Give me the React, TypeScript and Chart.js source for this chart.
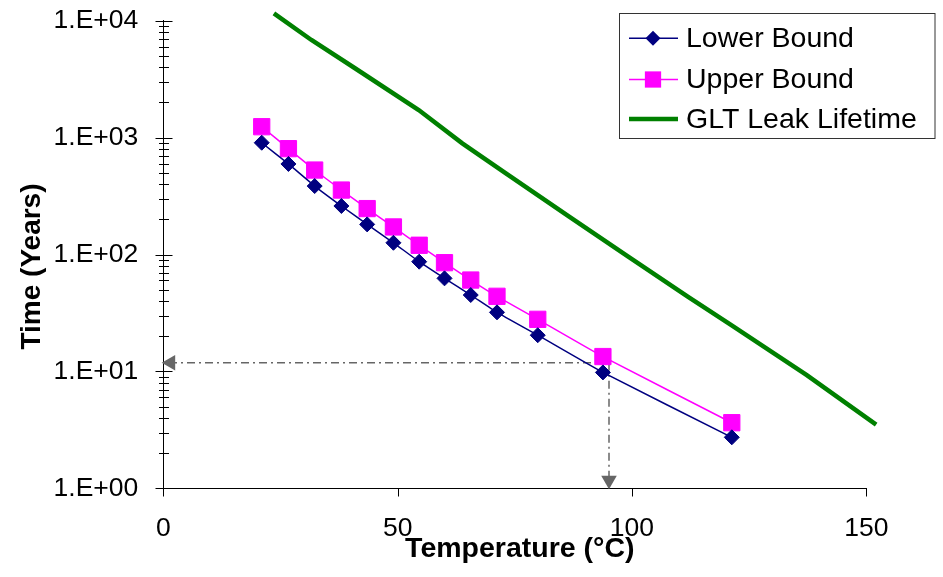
import React, { useEffect, useRef } from "react";
import { Chart, registerables } from "chart.js";

Chart.register(...registerables);

// ---- data ----
const temperatures = [21, 26.7, 32.3, 38, 43.5, 49.1, 54.6, 60, 65.6, 71.2, 79.9, 93.8, 121.3];
const lowerBound = [904, 595, 385, 260, 181, 126, 86.8, 62.5, 45.0, 32.0, 20.4, 9.8, 2.73];
const upperBound = [1239, 804, 528, 356, 247, 172, 120, 85.1, 60.5, 43.9, 27.9, 13.4, 3.64];
const gltTemps = [23.6, 31.6, 40.9, 54.5, 63.8, 73.1, 86.6, 99.2, 111.9, 121.2, 137.3, 152.1];
const gltLifetime = [11560, 6840, 3920, 1722, 893, 495, 211, 95.9, 43.6, 24.9, 9.29, 3.5];
const xTicks = [0, 50, 100, 150];
const yTicks = [1, 10, 100, 1000, 10000];
const yTickLabels = ["1.E+00", "1.E+01", "1.E+02", "1.E+03", "1.E+04"];
const seriesLabels = ["Lower Bound", "Upper Bound", "GLT Leak Lifetime"];
const xTitle = "Temperature (°C)";
const yTitle = "Time (Years)";
// reference arrows (temperature, time)
const refHorizX = [95.1, 1.58];
const refHorizY = [11.86, 11.86];
const refVertX = [95.1, 95.1];
const refVertY = [11.86, 1.171];

const FONT = '"Liberation Sans", Arial, Helvetica, sans-serif';

const toPts = (xs: number[], ys: number[]) => xs.map((x, i) => ({ x, y: ys[i] }));

const axisDecorPlugin = {
  id: "axisDecor",
  afterDraw(chart: any) {
    const { ctx, chartArea } = chart;
    const xs = chart.scales.x;
    const ys = chart.scales.y;
    ctx.save();
    ctx.strokeStyle = "#000";
    ctx.lineWidth = 1;
    const ax = Math.round(chartArea.left) + 0.5;
    // y ticks (crossing axis), major + minor
    for (let d = 0; d < 4; d++) {
      for (let k = 2; k <= 9; k++) {
        const py = Math.round(ys.getPixelForValue(k * Math.pow(10, d))) + 0.5;
        ctx.beginPath();
        ctx.moveTo(ax - 4.5, py);
        ctx.lineTo(ax + 5.5, py);
        ctx.stroke();
      }
    }
    yTicks.forEach((v) => {
      const py = Math.round(ys.getPixelForValue(v)) + 0.5;
      ctx.beginPath();
      ctx.moveTo(ax - 8, py);
      ctx.lineTo(ax + 9, py);
      ctx.stroke();
    });
    // x ticks (outside)
    const by = Math.round(chartArea.bottom) + 0.5;
    xTicks.forEach((v) => {
      const px = Math.round(xs.getPixelForValue(v)) + 0.5;
      ctx.beginPath();
      ctx.moveTo(px, by);
      ctx.lineTo(px, by + 8);
      ctx.stroke();
    });
    // axis titles
    ctx.fillStyle = "#000";
    ctx.font = `bold 28.5px ${FONT}`;
    ctx.textAlign = "center";
    ctx.textBaseline = "alphabetic";
    ctx.fillText(xTitle, (chartArea.left + chartArea.right) / 2 + 5, 556.5);
    ctx.save();
    ctx.translate(39.5, (chartArea.top + chartArea.bottom) / 2 + 12);
    ctx.rotate(-Math.PI / 2);
    ctx.font = `bold 28px ${FONT}`;
    ctx.fillText(yTitle, 0, 0);
    ctx.restore();

    // legend
    const boxL = 619.5, boxT = 13.5, boxW = 315.5, boxH = 125;
    ctx.fillStyle = "#fff";
    ctx.fillRect(boxL, boxT, boxW, boxH);
    ctx.strokeStyle = "#333";
    ctx.lineWidth = 1;
    ctx.strokeRect(boxL, boxT, boxW, boxH);
    const rows = [38.3, 79.5, 119];
    ctx.font = `28.5px ${FONT}`;
    ctx.textAlign = "left";
    ctx.textBaseline = "middle";
    for (let i = 0; i < 3; i++) {
      const ds = chart.data.datasets[i];
      const y = rows[i];
      ctx.strokeStyle = ds.borderColor;
      ctx.lineWidth = ds.borderWidth;
      ctx.beginPath();
      ctx.moveTo(629, y);
      ctx.lineTo(678, y);
      ctx.stroke();
      if (ds.pointRadius > 0) {
        ctx.fillStyle = ds.pointBackgroundColor;
        ctx.beginPath();
        if (ds.pointStyle === "rectRot") {
          const r = ds.pointRadius;
          ctx.moveTo(653 - r, y);
          ctx.lineTo(653, y - r);
          ctx.lineTo(653 + r, y);
          ctx.lineTo(653, y + r);
          ctx.closePath();
        } else {
          const h = ds.pointRadius * Math.SQRT1_2;
          ctx.rect(653 - h, y - h, 2 * h, 2 * h);
        }
        ctx.fill();
      }
      ctx.fillStyle = "#000";
      ctx.fillText(ds.label, 686, y + 1);
    }
    ctx.restore();
  },
};

export default function App() {
  const ref = useRef<HTMLCanvasElement | null>(null);
  useEffect(() => {
    if (!ref.current) return;
    const chart = new Chart(ref.current, {
      type: "line",
      data: {
        datasets: [
          {
            label: seriesLabels[0],
            data: toPts(temperatures, lowerBound),
            borderColor: "#000080",
            backgroundColor: "#000080",
            pointBackgroundColor: "#000080",
            pointBorderColor: "#000080",
            borderWidth: 1.5,
            pointStyle: "rectRot",
            pointRadius: 7.5,
            pointBorderWidth: 1,
            tension: 0.15,
          },
          {
            label: seriesLabels[1],
            data: toPts(temperatures, upperBound),
            borderColor: "#FF00FF",
            backgroundColor: "#FF00FF",
            pointBackgroundColor: "#FF00FF",
            pointBorderColor: "#FF00FF",
            borderWidth: 1.5,
            pointStyle: "rect",
            pointRadius: 11.5,
            pointBorderWidth: 1,
            tension: 0.15,
          },
          {
            label: seriesLabels[2],
            data: toPts(gltTemps, gltLifetime),
            borderColor: "#008000",
            backgroundColor: "#008000",
            borderWidth: 4.5,
            pointRadius: 0,
            tension: 0,
            clip: false,
          } as any,
          {
            label: "refH",
            data: toPts(refHorizX, refHorizY),
            borderColor: "#666666",
            backgroundColor: "#666666",
            pointBackgroundColor: "#666666",
            pointBorderColor: "#666666",
            borderWidth: 1.5,
            borderDash: [8, 4, 2, 4],
            pointStyle: "triangle",
            pointRadius: [0, 9],
            pointBorderWidth: 0,
            pointRotation: [0, -90],
            clip: false,
          } as any,
          {
            label: "refV",
            data: toPts(refVertX, refVertY),
            borderColor: "#666666",
            backgroundColor: "#666666",
            pointBackgroundColor: "#666666",
            pointBorderColor: "#666666",
            borderWidth: 1.5,
            borderDash: [8, 4, 2, 4],
            pointStyle: "triangle",
            pointRadius: [0, 9],
            pointBorderWidth: 0,
            pointRotation: [0, 180],
            clip: false,
          } as any,
        ],
      },
      options: {
        responsive: false,
        animation: false,
        events: [],
        layout: { padding: { left: 0, right: 76.7, top: 20.7, bottom: 0 } },
        plugins: { legend: { display: false }, tooltip: { enabled: false } },
        scales: {
          x: {
            type: "linear",
            min: 0,
            max: 150,
            afterBuildTicks: (s: any) => {
              s.ticks = xTicks.map((v) => ({ value: v }));
            },
            afterFit: (s: any) => {
              s.height = 88.7;
              s.paddingTop = 0;
              s.paddingBottom = 0;
              s.paddingLeft = 0;
              s.paddingRight = 0;
            },
            grid: { display: false, drawTicks: false },
            border: { display: true, color: "#000", width: 1 },
            ticks: {
              padding: 24,
              color: "#000",
              maxRotation: 0,
              autoSkip: false,
              font: { family: FONT, size: 26.5 },
            },
          },
          y: {
            type: "logarithmic",
            min: 1,
            max: 10000,
            afterBuildTicks: (s: any) => {
              s.ticks = yTicks.map((v) => ({ value: v, major: true }));
            },
            afterFit: (s: any) => {
              s.width = 163.3;
              s.paddingTop = 0;
              s.paddingBottom = 0;
              s.paddingLeft = 0;
              s.paddingRight = 0;
            },
            grid: { display: false, drawTicks: false },
            border: { display: true, color: "#000", width: 1 },
            ticks: {
              padding: 25,
              color: "#000",
              autoSkip: false,
              font: { family: FONT, size: 26.5 },
              callback: (v: any) => {
                const i = yTicks.indexOf(Number(v));
                return i >= 0 ? yTickLabels[i] : "";
              },
            },
          },
        },
      },
      plugins: [axisDecorPlugin],
    } as any);
    return () => chart.destroy();
  }, []);
  return (
    <div style={{ position: "absolute", left: 0, top: 0, width: 943, height: 577, background: "#fff" }}>
      <canvas ref={ref} width={943} height={577} />
    </div>
  );
}
